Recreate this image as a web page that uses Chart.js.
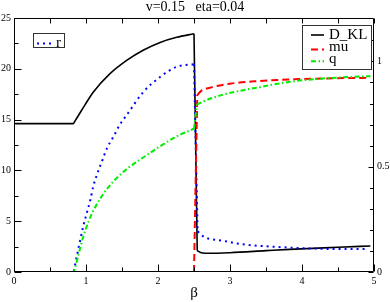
<!DOCTYPE html>
<html><head><meta charset="utf-8">
<script src="https://cdn.jsdelivr.net/npm/chart.js@4.4.0/dist/chart.umd.min.js"></script>
<style>html,body{margin:0;padding:0;background:#fff;}#wrap{width:390px;height:302px;}</style>
</head><body><div id="wrap"><canvas id="c" width="390" height="302"></canvas></div>
<script>
const chartTitle = 'v=0.15   eta=0.04';
const xTitle = 'β';

const betaKL = [0, 0.82, 0.85, 0.99, 1.10, 1.33, 1.57, 1.80, 2.03, 2.26, 2.5, 2.545, 2.6, 2.72, 3.0, 3.5, 3.83, 4.5, 4.95];
const dKL    = [14.6, 14.6, 14.9, 16.5, 17.7, 19.5, 20.85, 21.85, 22.6, 23.1, 23.45, 2.1, 1.9, 1.84, 1.9, 2.1, 2.23, 2.43, 2.56];

const betaR = [0, 0.82, 0.87, 0.92, 0.96, 1.01, 1.06, 1.10, 1.15, 1.22, 1.29, 1.38, 1.47, 1.57, 1.80, 2.03, 2.26, 2.5, 2.55, 2.64, 2.9, 3.18, 3.6, 4.07, 4.53, 4.9];
const rVals = [0, 0, 1.5, 3.15, 4.46, 5.78, 7.09, 8.4, 9.55, 10.86, 12.17, 13.3, 14.5, 15.5, 17.75, 19.2, 20.2, 20.45, 4.0, 3.45, 3.08, 2.72, 2.49, 2.33, 2.26, 2.26];

const betaMu = [0, 2.5, 2.545, 2.6, 2.72, 3.0, 3.37, 3.83, 4.3, 4.95];
const muVals = [0, 0, 0.84, 0.86, 0.875, 0.894, 0.906, 0.914, 0.919, 0.922];

const betaQ = [0, 0.82, 0.85, 0.89, 0.96, 1.03, 1.10, 1.24, 1.38, 1.57, 1.80, 2.03, 2.26, 2.5, 2.54, 2.63, 2.91, 3.37, 3.83, 4.3, 4.95];
const qVals = [0, 0, 0.02, 0.075, 0.165, 0.235, 0.29, 0.37, 0.43, 0.49, 0.545, 0.597, 0.644, 0.68, 0.795, 0.81, 0.843, 0.875, 0.903, 0.919, 0.93];

// index of the last point before each series' jump at beta ~ 2.5
const jumpKL = 10, jumpR = 17, jumpMu = 1, jumpQ = 13;

const xTicks = [0, 1, 2, 3, 4, 5];
const xMinorTicks = [0.5, 1.5, 2.5, 3.5, 4.5];
const yLeftTicks = [0, 5, 10, 15, 20, 25];
const yLeftMinor = [2.5, 7.5, 12.5, 17.5, 22.5];
const yRightTicks = [0, 0.5, 1];
const yRightMinor = [0.1, 0.2, 0.3, 0.4, 0.6, 0.7, 0.8, 0.9, 1.1];
const yRightMax = 1.206;

// builds points; the jump itself is kept as its own straight piece so the
// smooth curves on either side are interpolated independently
const pts = (xs, ys, j) => {
  const out = [];
  xs.forEach((x, i) => {
    out.push({x: x, y: ys[i]});
    if (i === j || i === j + 1) {
      out.push({x: x, y: null});
      out.push({x: x, y: ys[i]});
    }
  });
  return out;
};
const serif = 'Liberation Serif, Times New Roman, serif';

const decor = {
  id: 'decor',
  afterDatasetsDraw(chart) {
    const {ctx, chartArea: a, scales} = chart;
    ctx.save();
    ctx.strokeStyle = '#000';
    ctx.lineWidth = 1;
    const L = a.left + 0.5, R = a.right - 0.5, T = a.top + 0.5, B = a.bottom - 0.5;
    ctx.beginPath();
    ctx.rect(L, T, R - L, B - T);
    xTicks.forEach(v => { const p = Math.round(scales.x.getPixelForValue(v)) + 0.5; ctx.moveTo(p, B); ctx.lineTo(p, B - 7); });
    xMinorTicks.forEach(v => { const p = Math.round(scales.x.getPixelForValue(v)) + 0.5; ctx.moveTo(p, B); ctx.lineTo(p, B - 4); });
    xTicks.concat(xMinorTicks).forEach(v => { const p = Math.round(scales.x.getPixelForValue(v)) + 0.5; ctx.moveTo(p, T); ctx.lineTo(p, T + 5); });
    yLeftTicks.forEach(v => { const p = Math.round(scales.y.getPixelForValue(v)) + 0.5; ctx.moveTo(L, p); ctx.lineTo(L + 7, p); });
    yLeftMinor.forEach(v => { const p = Math.round(scales.y.getPixelForValue(v)) + 0.5; ctx.moveTo(L, p); ctx.lineTo(L + 4, p); });
    yRightTicks.forEach(v => { const p = Math.round(scales.y2.getPixelForValue(v)) + 0.5; ctx.moveTo(R, p); ctx.lineTo(R - 5, p); });
    yRightMinor.forEach(v => { const p = Math.round(scales.y2.getPixelForValue(v)) + 0.5; ctx.moveTo(R, p); ctx.lineTo(R - 3.5, p); });
    ctx.stroke();
    ctx.restore();
  },
  afterDraw(chart) {
    const {ctx} = chart;
    const ds = chart.data.datasets;
    const drawBox = (x, y, w, h) => {
      ctx.fillStyle = '#fff';
      ctx.fillRect(x, y, w, h);
      ctx.strokeStyle = '#333';
      ctx.lineWidth = 1;
      ctx.strokeRect(x, y, w, h);
    };
    const drawEntry = (d, x0, x1, ly, tx, ty) => {
      ctx.save();
      ctx.strokeStyle = d.borderColor;
      ctx.lineWidth = d.borderWidth;
      ctx.setLineDash(d.borderDash || []);
      ctx.beginPath(); ctx.moveTo(x0, ly); ctx.lineTo(x1, ly); ctx.stroke();
      ctx.restore();
      ctx.fillStyle = '#000';
      ctx.font = '15px ' + serif;
      ctx.textBaseline = 'alphabetic';
      ctx.textAlign = 'left';
      ctx.fillText(d.label, tx, ty);
    };
    ctx.save();
    drawBox(33.5, 33.5, 31, 14);
    drawEntry(ds[1], 37, 51, 43.5, 56, 46.5);
    drawBox(302.5, 25.5, 69, 44);
    drawEntry(ds[0], 311, 324, 35, 329, 38.7);
    drawEntry(ds[2], 311, 324, 49.5, 329, 50.7);
    drawEntry(ds[3], 311, 324, 61.3, 329, 62.5);
    ctx.restore();
  }
};

new Chart(document.getElementById('c'), {
  type: 'line',
  data: {
    datasets: [
      {label: 'D_KL', data: pts(betaKL, dKL, jumpKL), yAxisID: 'y', borderColor: '#000000', borderWidth: 1.6, borderDash: [], order: 3},
      {label: 'r', data: pts(betaR, rVals, jumpR), yAxisID: 'y', borderColor: '#0000ff', borderWidth: 2, borderDash: [2, 4], order: 2},
      {label: 'mu', data: pts(betaMu, muVals, jumpMu), yAxisID: 'y2', borderColor: '#ff0000', borderWidth: 2, borderDash: [7, 4], order: 1},
      {label: 'q', data: pts(betaQ, qVals, jumpQ), yAxisID: 'y2', borderColor: '#00ee00', borderWidth: 2, borderDash: [5, 2.5, 1.5, 2.5], order: 0}
    ]
  },
  options: {
    responsive: false,
    animation: false,
    devicePixelRatio: 1,
    spanGaps: false,
    elements: {point: {radius: 0}, line: {cubicInterpolationMode: 'monotone', fill: false}},
    layout: {padding: 0},
    plugins: {
      legend: {display: false},
      tooltip: {enabled: false},
      title: {display: true, text: chartTitle, color: '#000', font: {family: serif, size: 14, weight: 'normal', lineHeight: 1}, padding: {top: 0, bottom: 4}}
    },
    scales: {
      x: {
        type: 'linear', position: 'bottom', min: 0, max: 5,
        afterBuildTicks: s => { s.ticks = xTicks.map(v => ({value: v})); },
        afterFit: s => { s.height = 30; },
        grid: {display: false, drawTicks: false}, border: {display: false},
        ticks: {color: '#000', font: {family: serif, size: 10}, padding: 3, maxRotation: 0, autoSkip: false, callback: v => String(v)},
        title: {display: true, text: xTitle, color: '#000', font: {family: serif, size: 15, lineHeight: 1.2}, padding: {top: 0, bottom: 0}}
      },
      y: {
        type: 'linear', position: 'left', min: 0, max: 25,
        afterBuildTicks: s => { s.ticks = yLeftTicks.map(v => ({value: v})); },
        afterFit: s => { s.width = 14; },
        grid: {display: false, drawTicks: false}, border: {display: false},
        ticks: {color: '#000', font: {family: serif, size: 10}, padding: 3, autoSkip: false, callback: v => String(v)}
      },
      y2: {
        type: 'linear', position: 'right', min: 0, max: yRightMax,
        afterBuildTicks: s => { s.ticks = yRightTicks.map(v => ({value: v})); },
        afterFit: s => { s.width = 16; },
        grid: {display: false, drawTicks: false}, border: {display: false},
        ticks: {color: '#000', font: {family: serif, size: 10}, padding: 3, autoSkip: false, callback: v => String(v)}
      }
    }
  },
  plugins: [decor]
});
</script></body></html>
